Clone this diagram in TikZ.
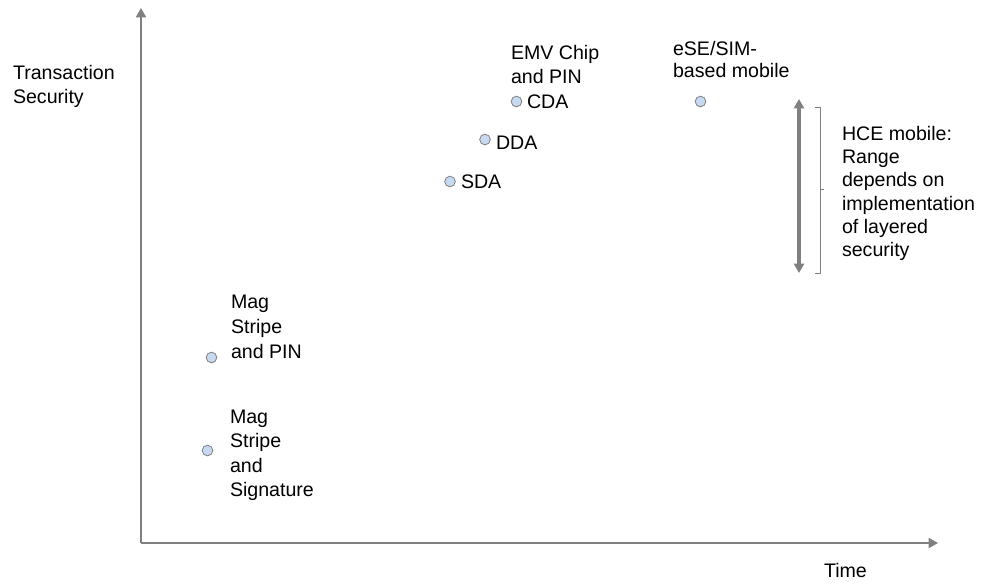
\documentclass[tikz,border=0pt]{standalone}
\usepackage{fontspec}
\setmainfont{Liberation Sans}
\usetikzlibrary{arrows.meta}
\definecolor{axisgray}{HTML}{808080}
\definecolor{dotfill}{HTML}{C6D9F1}
\definecolor{dotline}{HTML}{7F7F7F}
\tikzset{
  lbl/.style={anchor=north west, inner sep=0pt, outer sep=0pt, align=left,
    font=\fontsize{14.7}{17.5}\selectfont},
  dot/.style={circle, draw=dotline, fill=dotfill, line width=0.6pt,
    minimum size=8pt, inner sep=0pt},
  axisline/.style={draw=axisgray, line width=1.5pt,
    -{Triangle[width=7.5pt,length=7pt]}},
  rangearrow/.style={draw=axisgray, line width=2.5pt,
    {Triangle[width=7.5pt,length=7pt]}-{Triangle[width=7.5pt,length=7pt]}},
  bracket/.style={draw=axisgray, line width=0.6pt}
}
\begin{document}
\begin{tikzpicture}[x=0.75pt,y=-0.75pt]
\useasboundingbox (0,0) rectangle (985,583);
% axes
\coordinate (origin) at (141,543);
\coordinate (ytip) at (141,8);
\coordinate (xtip) at (938,543);
\draw[axisline] (origin) -- (ytip);
\draw[axisline] (origin) -- (xtip);
% axis labels
\node[lbl] (ylabel) at (13,65.5) {Transaction\\Security};
\node[lbl] (xlabel) at (824,563) {Time};
% dots
\node[dot] (cda) at (516.5,101.5) {};
\node[dot] (dda) at (485,139.5) {};
\node[dot] (sda) at (450,181.5) {};
\node[dot] (ese) at (700.5,101.5) {};
\node[dot] (msp) at (211.5,357.5) {};
\node[dot] (mss) at (207.5,450.5) {};
% texts
\node[lbl] (emv) at (511,45.5) {EMV Chip\\and PIN};
\node[lbl] (cdat) at (527,94.5) {CDA};
\node[lbl] (ddat) at (496,136.5) {DDA};
\node[lbl] (sdat) at (461,174.5) {SDA};
\node[lbl, font=\fontsize{14.7}{16.2}\selectfont] (eset) at (673,41.5) {eSE/SIM-\\based mobile};
\node[lbl] (hce) at (842,126) {HCE mobile:\\Range\\depends on\\implementation\\of layered\\security};
\node[lbl, font=\fontsize{14.7}{18.6}\selectfont] (mspt) at (231,295) {Mag\\Stripe\\and PIN};
\node[lbl, font=\fontsize{14.7}{18.2}\selectfont] (msst) at (230,410) {Mag\\Stripe\\and\\Signature};
% HCE range arrow and bracket
\coordinate (rtop) at (799,99);
\coordinate (rbot) at (799,273);
\draw[rangearrow] (rtop) -- (rbot);
\coordinate (btl) at (815,107);
\coordinate (btr) at (820,107);
\coordinate (bbr) at (820,273);
\coordinate (bbl) at (815,273);
\coordinate (bmid) at (820,189);
\coordinate (btick) at (823.5,189);
\draw[bracket] (btl) -- (btr) -- (bbr) -- (bbl);
\draw[bracket] (bmid) -- (btick);
\end{tikzpicture}
\end{document}
